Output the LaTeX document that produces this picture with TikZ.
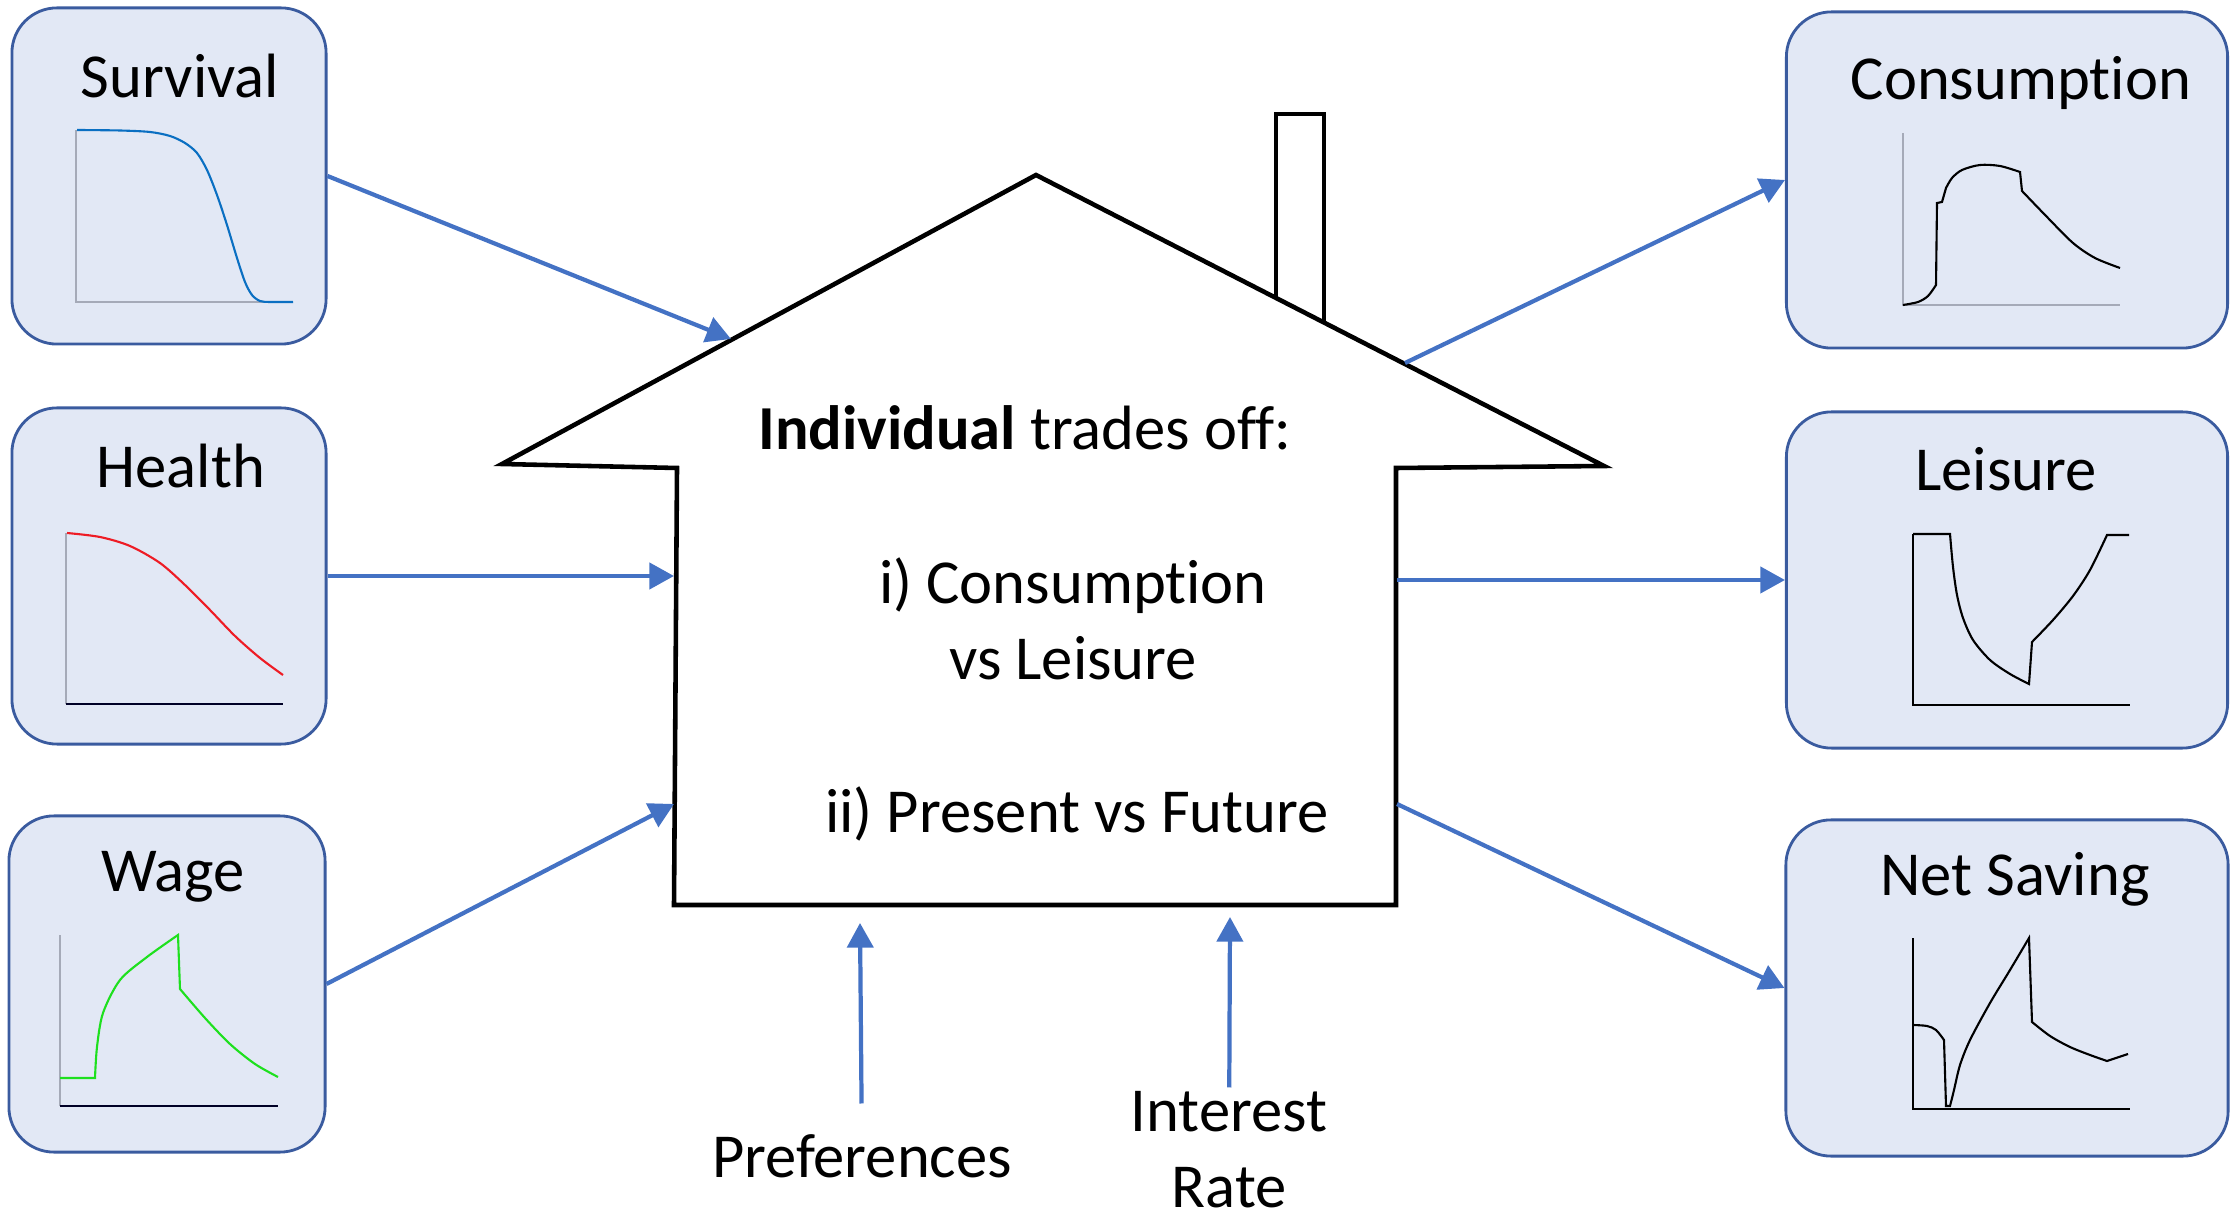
\documentclass[tikz,border=0pt]{standalone}
\usepackage{fontspec}
\setmainfont{Carlito}[Ligatures={NoCommon,NoContextual}]
\usetikzlibrary{arrows.meta}

\definecolor{panelfill}{HTML}{E2E8F5}
\definecolor{panelline}{HTML}{3A5B9F}
\definecolor{flowblue}{HTML}{4472C4}
\definecolor{survblue}{HTML}{0A6FC2}
\definecolor{healthred}{HTML}{EE1C25}
\definecolor{wagegreen}{HTML}{1EE01E}
\definecolor{axisgrey}{HTML}{A5AAB8}

\begin{document}
\begin{tikzpicture}[x=0.01cm, y=-0.01cm,
	every node/.style={font=\fontsize{17.8}{21.6}\selectfont},
	panel/.style={draw=panelline, line width=0.8pt, fill=panelfill, rounded corners=0.45cm, inner sep=0pt, minimum height=3.36cm},
	link/.style={flowblue, line width=1.2pt, -{Triangle[length=7pt, width=7.4pt]}},
	house/.style={line width=1.3pt, line join=miter},
	curve/.style={line width=0.6pt}]
	\useasboundingbox (0,0) rectangle (2239,1225);

	% inputs (left) and outcomes (right)
	\node[panel, minimum width=3.14cm] (surv) at (169,176) {};
	\node[panel, minimum width=3.14cm] (health) at (169,576) {};
	\node[panel, minimum width=3.16cm] (wage) at (167,984) {};
	\node[panel, minimum width=4.41cm] (cons) at (2007,180) {};
	\node[panel, minimum width=4.41cm] (leis) at (2007,580) {};
	\node[panel, minimum width=4.42cm] (save) at (2007,988) {};

	\node[anchor=base] (survT) at (180,98) {Survival};
	\node[anchor=base] (healthT) at (181,488) {Health};
	\node[anchor=base] (wageT) at (173,892) {Wage};
	\node[anchor=base] (consT) at (2021,100) {Consumption};
	\node[anchor=base] (leisT) at (2006,491) {Leisure};
	\node[anchor=base] (saveT) at (2015,896) {Net Saving};

	% small profiles
	\draw[axisgrey, line width=0.5pt] (76,130) -- (76,302) -- (293,302);
	\draw[curve, survblue] plot[smooth] coordinates {(77,130) (120,130.5) (150,132) (170,136) (185,143) (197,153) (207,170) (217,195) (227,225) (237,258) (245,282) (252,295) (260,301) (270,302) (293,302)};

	\draw[axisgrey, line width=0.5pt] (66,533) -- (66,704);
	\draw[black!85!blue, line width=0.5pt] (66,704) -- (283,704);
	\draw[curve, healthred] plot[smooth] coordinates {(67,533) (100,537) (130,546) (160,563) (185,585) (210,610) (235,636) (260,658) (283,675)};

	\draw[axisgrey, line width=0.5pt] (60,935) -- (60,1106);
	\draw[black!85!blue, line width=0.5pt] (60,1106) -- (278,1106);
	\draw[curve, wagegreen] (60,1078) -- plot[smooth] coordinates {(95,1078) (97,1047) (103,1013) (120,980) (147,957) (178,935)} -- (180,989) -- plot[smooth] coordinates {(180,989) (205,1018) (230,1044) (255,1064) (278,1077)};

	\draw[axisgrey, line width=0.5pt] (1903,133) -- (1903,305) -- (2120,305);
	\draw[curve] plot[smooth] coordinates {(1903,305) (1918,302) (1928,296) (1936,285)} -- (1937,203) -- (1942,202) -- plot[smooth] coordinates {(1946,188) (1952,178) (1962,170) (1980,165) (2000,166) (2020,172)} -- (2022,191) -- plot[smooth] coordinates {(2022,191) (2047,217) (2073,243) (2095,258) (2120,268)};

	\draw[line width=0.5pt] (1913,534) -- (1913,705) -- (2130,705);
	\draw[curve] (1913,534) -- (1950,534) -- plot[smooth] coordinates {(1950,534) (1953,567) (1957,595) (1963,618) (1973,640) (1990,660) (2010,674) (2029,684)} -- (2032,642) -- plot[smooth] coordinates {(2032,642) (2053,620) (2073,596) (2090,570) (2107,535)} -- (2129,535);

	\draw[line width=0.5pt] (1913,938) -- (1913,1109) -- (2130,1109);
	\draw[curve] plot[smooth] coordinates {(1913,1025) (1927,1026) (1936,1030) (1944,1040)} -- (1946,1106) -- (1950,1106) -- plot[smooth] coordinates {(1950,1106) (1954,1090) (1960,1065) (1970,1040) (1990,1003) (2010,970) (2029,938)} -- (2032,1022) -- plot[smooth] coordinates {(2032,1022) (2050,1036) (2070,1047) (2090,1055) (2107,1061)} -- (2128,1054);

	% the house
	\coordinate (apex) at (1036,175);
	\coordinate (eaveL) at (502,464);
	\coordinate (eaveR) at (1604,466);
	\coordinate (wallTL) at (677,468);
	\coordinate (wallTR) at (1396,468);
	\coordinate (wallBL) at (674,905);
	\coordinate (wallBR) at (1396,905);
	\draw[house] (wallTL) -- (eaveL) -- (apex) -- (eaveR) -- (wallTR) -- (wallBR) -- (wallBL) -- cycle;
	\draw[house] (1276,298) -- (1276,114) -- (1324,114) -- (1324,323);

	\node[anchor=base] (trade) at (1025,450) {\textbf{Individual} trades off:};
	\node[align=center] (opt1) at (1073,619) {i) Consumption\\vs Leisure};
	\node[anchor=base] (opt2) at (1077,833) {ii) Present vs Future};

	\node[anchor=base, inner sep=8.5pt] (pref) at (862,1177) {Preferences};
	\node[align=center, inner sep=1pt] (rate) at (1229,1150) {Interest\\Rate};

	% arrows in and out
	\coordinate (roofIn) at (731,339);
	\coordinate (wallIn1) at (674,576);
	\coordinate (wallIn2) at (674,804);
	\coordinate (roofOut) at (1405,363);
	\coordinate (wallOut1) at (1397,580);
	\coordinate (wallOut2) at (1397,804);
	\coordinate (prefTip) at (860,923);
	\coordinate (rateTip) at (1230,917);

	\draw[link] (surv.east) -- (roofIn);
	\draw[link] (health.east) -- (wallIn1);
	\draw[link] (wage.east) -- (wallIn2);
	\draw[link] (roofOut) -- (cons.west);
	\draw[link] (wallOut1) -- (leis.west);
	\draw[link] (wallOut2) -- (save.west);
	\draw[link] (pref) -- (prefTip);
	\draw[link] (rate) -- (rateTip);
\end{tikzpicture}
\end{document}
